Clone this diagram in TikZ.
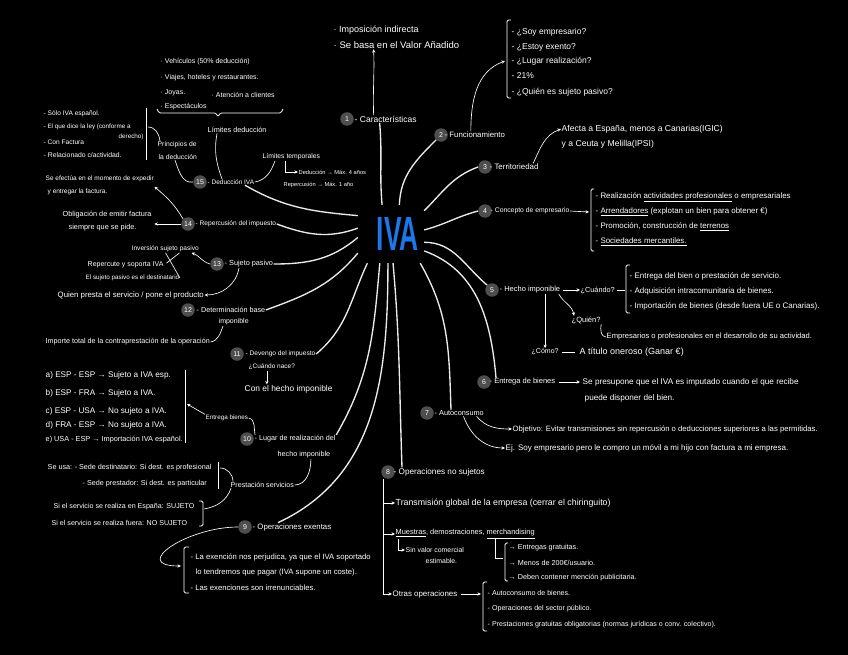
\documentclass[tikz,border=0pt]{standalone}
\usepackage{fontspec}
\setmainfont{Liberation Sans}
\usetikzlibrary{arrows.meta}
\definecolor{ivablue}{RGB}{30,118,235}
\definecolor{dotgray}{RGB}{78,78,78}

\begin{document}
\begin{tikzpicture}[x=1pt, y=1pt,
  note/.style={text=white, anchor=west, inner sep=0.5pt, font=\fontsize{#1}{#1}\selectfont},
  note/.default=7,
  numdot/.style={circle, fill=dotgray, text=white, inner sep=0pt, minimum size=13.5pt, font=\fontsize{7}{7}\selectfont},
  branch/.style={line width=1.35pt, draw=white!92!black},
  link/.style={-{Stealth[length=3.5pt,width=3.2pt]}, line width=0.65pt, draw=white},
  thin/.style={line width=0.65pt, draw=white},
  bracket/.style={line width=0.75pt, draw=white, rounded corners=1.5pt},
]

% Sheet: 1pt = 1px, y runs downwards as -y
\fill[black] (0,0) rectangle (848,-655);
\useasboundingbox (0,0) rectangle (848,-655);

% Centre
\node[rectangle, minimum width=66pt, minimum height=58pt, inner sep=0pt, text=ivablue,
  font=\fontsize{48}{48}\selectfont\bfseries] (iva) at (391,-234) {\hspace*{14pt}\scalebox{0.55}[1]{IVA}};

% Numbered topics
\node[numdot] (n1) at (347,-119) {1};
\node[note=8.5] (t1) at (354,-119) {- Características};
\node[numdot] (n2) at (441,-135) {2};
\node[note=7.8] (t2) at (444,-135) {- Funcionamiento};
\node[numdot] (n3) at (485,-167) {3};
\node[note=7.9] (t3) at (489,-167) {- Territoriedad};
\node[numdot] (n4) at (485,-211) {4};
\node[note=6.8] (t4) at (490,-211) {- Concepto de empresario};
\node[numdot] (n5) at (492,-290) {5};
\node[note=7.5] (t5) at (499,-290) {- Hecho imponible};
\node[numdot] (n6) at (484,-382) {6};
\node[note=7.5] (t6) at (489,-382) {- Entrega de bienes};
\node[numdot] (n7) at (427,-413) {7};
\node[note=7.3] (t7) at (434,-413) {- Autoconsumo};
\node[numdot] (n8) at (388,-472) {8};
\node[note=8.2] (t8) at (393,-472) {- Operaciones no sujetos};
\node[numdot] (n9) at (245,-527) {9};
\node[note=7.8] (t9) at (252,-527) {- Operaciones exentas};
\node[numdot] (n10) at (247,-439) {10};
\node[note=7.2] (t10a) at (254,-439) {- Lugar de realización del};
\node[note=7.2] (t10b) at (277,-455) {hecho imponible};
\node[numdot] (n11) at (237,-354) {11};
\node[note=6.6] (t11) at (245,-354) {- Devengo del impuesto};
\node[numdot] (n12) at (188,-310) {12};
\node[note=7.2] (t12a) at (196,-310) {- Determinación base};
\node[note=7] (t12b) at (218,-322) {imponible};
\node[numdot] (n13) at (217,-264) {13};
\node[note=7.3] (t13) at (224,-264) {- Sujeto pasivo};
\node[numdot] (n14) at (188,-224) {14};
\node[note=6.6] (t14) at (195,-224) {- Repercusión del impuesto};
\node[numdot] (n15) at (200,-182) {15};
\node[note=6.5] (t15) at (207,-182) {- Deducción IVA};

% Branches from the centre
\draw[branch] (iva.107) to[out=95,in=-85] ([xshift=-6pt]t1.south);
\draw[branch] (iva.74) to[out=88,in=225] (n2.south west);
\draw[branch] (iva.35) to[out=45,in=200] (n3.west);
\draw[branch] (iva.7) to[out=15,in=195] (n4.west);
\draw[branch] (iva.-14) to[out=0,in=140] (n5.north west);
\draw[branch] (iva.-27) to[out=-20,in=95] ([xshift=7pt]t6.north west);
\draw[branch] (iva.-45) to[out=-60,in=92] ([xshift=17pt]t7.north west);
\draw[branch] (iva.-86) to[out=-85,in=92] ([xshift=9pt]t8.north west);
\draw[branch] (iva.-96) to[out=-90,in=25] ([xshift=26pt]t9.north west);
\draw[branch] (iva.-111) to[out=-95,in=60] (t10a.north east);
\draw[branch] (iva.-129) to[out=-115,in=40] (t11.east);
\draw[branch] (iva.-150) to[out=-130,in=20] (t12a.east);
\draw[branch] (iva.-174) to[out=-140,in=0] (t13.east);
\draw[branch] (iva.170) to[out=200,in=-20] (t14.east);
\draw[branch] (iva.151) to[out=175,in=-30] ([xshift=-10pt]t15.south east);

% 1 - Caracteristicas
\node[note=9] (a1) at (333,-30) {· Imposición indirecta};
\node[note=9.5] (a2) at (333,-45) {· Se basa en el Valor Añadido};
\draw[link] ([xshift=-12pt]t1.north) to[out=92,in=-88] ([xshift=-12pt]t1.north |- a2.south);

% 2 - Funcionamiento
\node[note=8.5] (f1) at (511,-32) {- ¿Soy empresario?};
\node[note=8.5] (f2) at (511,-47) {- ¿Estoy exento?};
\node[note=8.5] (f3) at (511,-61) {- ¿Lugar realización?};
\node[note=8.5] (f4) at (511,-76) {- 21\%};
\node[note=8.5] (f5) at (511,-92) {- ¿Quién es sujeto pasivo?};
\draw[bracket] (511,-20) -- (507,-20) -- (507,-98) -- (511,-98);
\coordinate (fb) at (505,-61);
\draw[link] ([xshift=-4pt]t2.north) to[out=90,in=200] (fb);

% 3 - Territoriedad
\node[note=8.6] (r1) at (561,-129) {Afecta a España, menos a Canarias(IGIC)};
\node[note=8.6] (r2) at (561,-144) {y a Ceuta y Melilla(IPSI)};
\draw[link] ([xshift=-6pt]t3.north east) to[out=65,in=200] (r1.west);

% 4 - Concepto de empresario
\node[note=7.9] (c1) at (595,-197) {- Realización \underline{actividades profesionales} o empresariales};
\node[note=7.9] (c2) at (595,-212) {- \underline{Arrendadores} (explotan un bien para obtener €)};
\node[note=7.9] (c3) at (595,-227) {- Promoción, construcción de \underline{terrenos}};
\node[note=7.9] (c4) at (595,-242) {- \underline{Sociedades mercantiles.}};
\draw[bracket] (594,-189) -- (591,-189) -- (591,-251) -- (594,-251);
\coordinate (cb) at (589,-212);
\draw[link] (t4.east) -- (cb);

% 5 - Hecho imponible
\node[note=7.3] (q1) at (580,-290) {¿Cuándo?};
\node[note=8] (h1) at (629,-276) {- Entrega del bien o prestación de servicio.};
\node[note=8] (h2) at (629,-291) {- Adquisición intracomunitaria de bienes.};
\node[note=8] (h3) at (629,-306) {- Importación de bienes (desde fuera UE o Canarias).};
\draw[bracket] (630,-265) -- (626,-265) -- (626,-313) -- (630,-313);
\coordinate (hb) at (625,-290);
\draw[link, shorten <=2pt] (t5.east) -- (q1.west);
\draw[thin, shorten <=2pt] (q1.east) -- (hb);
\node[note=7.5] (q2) at (571,-320) {¿Quién?};
\node[note=7.6] (e1) at (606,-337) {Empresarios o profesionales en el desarrollo de su actividad.};
\draw[link] ([xshift=-2pt]t5.south east) to[out=-60,in=100] ([xshift=3pt]q2.north west);
\draw[thin] (q2.south east) to[out=-100,in=180] (e1.west);
\node[note=7] (q3) at (531,-352) {¿Cómo?};
\node[note=9] (o1) at (579,-352) {A título oneroso (Ganar €)};
\draw[link] (q3.north |- t5.south) -- (q3.north);
\draw[thin, shorten <=3pt, shorten >=4pt] (q3.east) -- (o1.west);

% 6 - Entrega de bienes
\node[note=8.2] (s1) at (582,-382) {Se presupone que el IVA es imputado cuando el que recibe};
\node[note=8.2] (s2) at (584,-398) {puede disponer del bien.};
\draw[link, shorten <=3pt, shorten >=2pt] (t6.east) -- (s1.west);

% 7 - Autoconsumo
\node[note=7.7] (ob) at (512,-429) {Objetivo: Evitar transmisiones sin repercusión o deducciones superiores a las permitidas.};
\node[note=8] (ej) at (505,-448) {Ej. Soy empresario pero le compro un móvil a mi hijo con factura a mi empresa.};
\draw[link] ([xshift=-8pt]t7.south east) to[out=-50,in=180] (ob.west);
\draw[link] ([xshift=-21pt]t7.south east) to[out=-70,in=180] (ej.west);

% 8 - Operaciones no sujetos
\node[note=8.8] (ns1) at (395,-503) {Transmisión global de la empresa (cerrar el chiringuito)};
\node[note=7.4] (ns2) at (395,-534) {\underline{Muestras}, demostraciones, \underline{merchandising}};
\node[note=7.9] (ns3) at (392,-594) {Otras operaciones};
\draw[link] ([xshift=-5pt]n8.south) |- (ns1.west);
\draw[link] ([xshift=-5pt]n8.south) |- (ns2.west);
\draw[link] ([xshift=-5pt]n8.south) |- (ns3.west);
\node[note=6.9] (sv1) at (405,-550) {Sin valor comercial};
\node[note=6.9] (sv2) at (425,-561) {estimable.};
\draw[link] ([xshift=3pt]ns2.south west) |- (sv1.west);
\node[note=7.2] (m1) at (508,-548) {→ Entregas gratuitas.};
\node[note=7.2] (m2) at (508,-563) {→ Menos de 200€/usuario.};
\node[note=7.2] (m3) at (508,-578) {→ Deben contener mención publicitaria.};
\coordinate (mb) at (503,-558);
\draw[thin] ([xshift=-40pt]ns2.south east) |- (mb);
\draw[bracket] (508,-543) -- (505,-543) -- (505,-581) -- (508,-581);
\node[note=7.1] (p1) at (487,-593) {- Autoconsumo de bienes.};
\node[note=7.1] (p2) at (487,-609) {- Operaciones del sector público.};
\node[note=7.1] (p3) at (487,-625) {- Prestaciones gratuitas obligatorias (normas jurídicas o conv. colectivo).};
\draw[bracket] (487,-582) -- (483,-582) -- (483,-631) -- (487,-631);
\coordinate (pb) at (481,-594);
\draw[link, shorten <=3pt] (ns3.east) -- (pb);

% 9 - Operaciones exentas
\node[note=7.7] (x1) at (190,-557) {- La exención nos perjudica, ya que el IVA soportado};
\node[note=7.7] (x2) at (195,-573) {lo tendremos que pagar (IVA supone un coste).};
\node[note=7.7] (x3) at (190,-588) {- Las exenciones son irrenunciables.};
\draw[bracket] (189,-547) -- (184,-547) -- (184,-593) -- (189,-593);
\coordinate (xb) at (181,-566);
\draw[link] (n9.west) to[out=180,in=180,looseness=1.9] (xb);
\node[note=7.1] (sj1) at (53,-507) {Si el servicio se realiza en España: SUJETO};
\node[note=7.1] (sj2) at (51,-523) {Si el servicio se realiza fuera: NO SUJETO};
\draw[bracket] (199,-501) -- (203,-501) -- (203,-526) -- (199,-526);

% 10 - Lugar de realizacion
\node[note=6.3] (eb) at (205,-418) {Entrega bienes};
\draw[thin] (eb.east) to[out=-15,in=100] ([xshift=1pt]t10a.north west);
\node[note=8.2] (l1) at (45,-375) {a) ESP - ESP → Sujeto a IVA esp.};
\node[note=8.2] (l2) at (45,-393) {b) ESP - FRA → Sujeto a IVA.};
\node[note=8.2] (l3) at (45,-411) {c) ESP - USA → No sujeto a IVA.};
\node[note=8.2] (l4) at (45,-425) {d) FRA - ESP → No sujeto a IVA.};
\node[note=7.3] (l5) at (45,-440) {e) USA - ESP → Importación IVA español.};
\draw[bracket] (185,-370) -- (185,-443);
\coordinate (lb) at (187,-404);
\draw[link] (eb.north west) to[out=150,in=-30] (lb);
\node[note=7.1] (ps) at (230,-485) {Prestación servicios};
\draw[thin] ([xshift=7pt]t10b.south) to[out=-90,in=0] (ps.east);
\node[note=7.2] (su1) at (47,-468) {Se usa: - Sede destinatario: Si dest. es profesional};
\node[note=7.2] (su2) at (82,-484) {- Sede prestador: Si dest. es particular};
\draw[thin] (218,-462) -- (218,-489);
\coordinate (ub) at (220,-468);
\draw[thin] ([xshift=3pt]ps.north west) to[out=90,in=0] (ub);
\coordinate (sb) at (204,-509);
\draw[thin] (sb) to[out=10,in=-110] ([xshift=1pt]ps.south west);

% 11 - Devengo
\node[note=6.5] (dv1) at (248,-367) {¿Cuándo nace?};
\node[note=8.4] (dv2) at (244,-389) {Con el hecho imponible};
\draw[link] ([xshift=-5pt]dv1.south) -- ([xshift=-5pt]dv1.south |- dv2.north);

% 12 - Base imponible
\node[note=7.2] (im) at (45,-342) {Importe total de la contraprestación de la operación};
\draw[thin] ([xshift=5pt]t12b.south west) to[out=-110,in=10] (im.east);

% 13 - Sujeto pasivo
\node[note=6.6] (isp) at (131,-249) {Inversión sujeto pasivo};
\node[note=7] (rs1) at (87,-265) {Repercute y soporta IVA};
\node[note=6.3] (rs2) at (85,-278) {El sujeto pasivo es el destinatario};
\draw[link] (n13.west) to[out=165,in=-20] ([xshift=-8pt]isp.south east);
\draw[thin] ([xshift=-34pt]isp.south east) -- (rs2.east);
\draw[thin, shorten >=3pt] ([xshift=-20pt]isp.south east) -- (rs1.east);
\node[note=7.8] (qp) at (57,-295) {Quien presta el servicio / pone el producto};
\draw[link] ([xshift=15pt]t13.south west) to[out=-100,in=0] (qp.east);

% 14 - Repercusion
\node[note=6.5] (se1) at (45,-179) {Se efectúa en el momento de expedir};
\node[note=6.5] (se2) at (47,-192) {y entregar la factura.};
\node[note=7.3] (ob1) at (62,-215) {Obligación de emitir factura};
\node[note=7.3] (ob2) at (68,-228) {siempre que se pide.};
\draw[link] (n14.north west) to[out=120,in=-40] ([yshift=-4pt]se1.south east);
\draw[link, shorten >=2pt] (n14.west) -- (ob1.east |- n14.west);

% 15 - Deduccion IVA
\node[note=6.8] (pd1) at (157,-145) {Principios de};
\node[note=6.8] (pd2) at (158,-157) {la deducción};
\node[note=7.3] (ld) at (207,-130) {Límites deducción};
\node[note=6.8] (lt) at (262,-157) {Límites temporales};
\draw[thin] (n15.west) to[out=190,in=-70] ([xshift=17pt]pd2.south west);
\draw[thin] ([xshift=15pt]t15.north west) to[out=110,in=-100] ([xshift=10pt]ld.south west);
\draw[thin] (t15.east) to[out=10,in=-110] ([xshift=13pt]lt.south west);
\node[note=7] (v1) at (160,-62) {· Vehículos (50\% deducción)};
\node[note=7] (v2) at (160,-78) {· Viajes, hoteles y restaurantes.};
\node[note=7] (v3) at (160,-93) {· Joyas.};
\node[note=7] (v4) at (211,-95) {· Atención a clientes};
\node[note=7] (v5) at (160,-107) {· Espectáculos};
\draw[bracket] (157,-109) -- (159,-113) -- (216,-113) -- (218,-117) -- (220,-113) -- (281,-113) -- (283,-109);
\node[note=6.6] (pr1) at (43,-114) {- Sólo IVA español.};
\node[note=6.3] (pr2) at (43,-127) {- El que dice la ley (conforme a};
\node[note=6.3] (pr3) at (118,-137) {derecho)};
\node[note=6.6] (pr4) at (43,-142) {- Con Factura};
\node[note=6.8] (pr5) at (43,-155) {- Relacionado c/actividad.};
\draw[thin] (146,-108) -- (146,-160);
\coordinate (prb) at (148,-127);
\draw[thin] ([xshift=3pt]pd1.north west) to[out=95,in=0] (prb);
\node[note=5.7] (dd1) at (298,-172) {Deducción → Máx. 4 años};
\node[note=5.7] (dd2) at (283,-185) {Repercusión → Máx. 1 año};
\draw[link] ([xshift=23pt]lt.south west) |- (dd1.west);

\end{tikzpicture}
\end{document}
